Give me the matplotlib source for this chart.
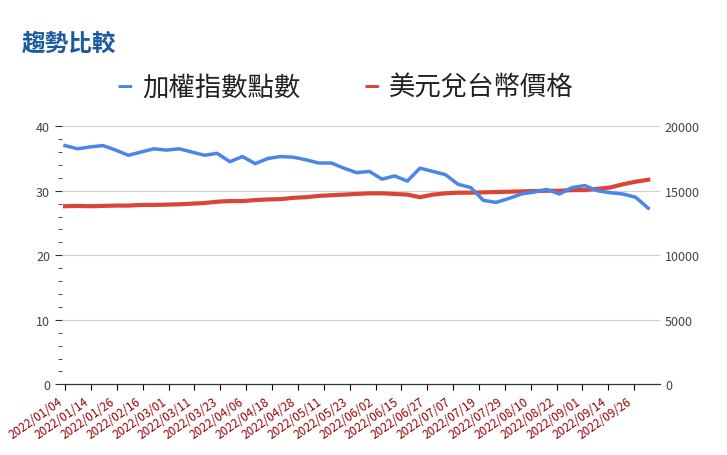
import matplotlib.pyplot as plt

plt.rcParams['font.family'] = ['Noto Sans CJK TC', 'DejaVu Sans']

tick_labels = ["2022/01/04", "2022/01/14", "2022/01/26", "2022/02/16", "2022/03/01",
               "2022/03/11", "2022/03/23", "2022/04/06", "2022/04/18", "2022/04/28",
               "2022/05/11", "2022/05/23", "2022/06/02", "2022/06/15", "2022/06/27",
               "2022/07/07", "2022/07/19", "2022/07/29", "2022/08/10", "2022/08/22",
               "2022/09/01", "2022/09/14", "2022/09/26"]

# 加權指數 sampled every ~4 trading days
taiex = [18500, 18250, 18400, 18500, 18150, 17750, 18000, 18250, 18150, 18250,
         18000, 17750, 17900, 17250, 17650, 17100, 17500, 17650, 17600, 17400,
         17150, 17150, 16750, 16400, 16500, 15900, 16150, 15750, 16750, 16500,
         16250, 15500, 15250, 14250, 14100, 14400, 14750, 14900, 15100, 14750,
         15250, 15400, 15000, 14850, 14750, 14500, 13650]
# 美元兌台幣 sampled every ~4 trading days
usdtwd = [27.6, 27.65, 27.6, 27.65, 27.7, 27.7, 27.8, 27.8, 27.85, 27.9,
          28.0, 28.1, 28.3, 28.4, 28.4, 28.55, 28.65, 28.7, 28.9, 29.0,
          29.2, 29.3, 29.4, 29.5, 29.6, 29.6, 29.5, 29.4, 29.0, 29.4,
          29.6, 29.7, 29.7, 29.75, 29.8, 29.85, 29.9, 29.95, 30.0, 30.0,
          30.1, 30.1, 30.3, 30.5, 31.0, 31.4, 31.7]

x = [i * 3.92 for i in range(len(taiex))]

fig = plt.figure(figsize=(7.27, 4.56), dpi=100)
ax = fig.add_axes([0.085, 0.155, 0.823, 0.566])
ax2 = ax.twinx()

ax.plot(x, usdtwd, color='#db4437', lw=3, zorder=3)
ax2.plot(x, taiex, color='#4a86e8', lw=2.5, zorder=3)

ax.set_ylim(0, 40)
ax2.set_ylim(0, 20000)
ax.set_yticks([0, 10, 20, 30, 40])
ax2.set_yticks([0, 5000, 10000, 15000, 20000])
ax.set_yticks(range(0, 41, 2), minor=True)
ax.yaxis.grid(True, color='#d0d0d0', lw=0.8)
ax.set_xlim(-1, 184)
ax.set_xticks([i * 8 for i in range(len(tick_labels))])
ax.set_xticklabels(tick_labels, rotation=35, ha='right', fontsize=8.5, color='#990000')
for a in (ax, ax2):
    for s in ('top', 'right', 'left'):
        a.spines[s].set_visible(False)
    a.spines['bottom'].set_color('#333333')
    a.tick_params(axis='y', labelsize=9, colors='#444444', length=0)
ax.tick_params(axis='y', which='minor', length=3, color='#333333')
ax.tick_params(axis='y', which='major', length=5, color='#333333')
ax.tick_params(axis='x', length=4)
ax2.set_zorder(ax.get_zorder() + 1)
ax2.patch.set_visible(False)

fig.text(0.03, 0.89, '趨勢比較', fontsize=17, color='#1a5a9e', fontweight='bold')
fig.text(0.16, 0.79, '–', fontsize=22, color='#4a86e8', fontweight='bold')
fig.text(0.195, 0.79, '加權指數點數', fontsize=19, color='#222222')
fig.text(0.50, 0.79, '–', fontsize=22, color='#db4437', fontweight='bold')
fig.text(0.535, 0.79, '美元兌台幣價格', fontsize=19, color='#222222')

fig.savefig('out.png')
